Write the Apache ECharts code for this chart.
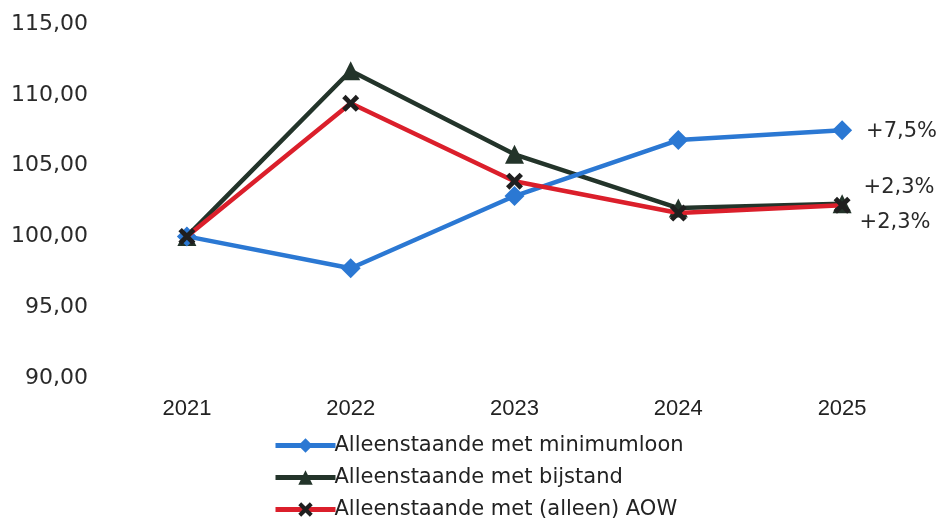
<!DOCTYPE html>
<html><head><meta charset="utf-8">
<script src="https://cdn.jsdelivr.net/npm/echarts@6/dist/echarts.min.js"></script>
<style>html,body{margin:0;padding:0;background:#fff}#c{width:943px;height:521px}</style>
</head><body><div id="c"></div>
<script>
const years = ['2021','2022','2023','2024','2025'];
const minimumloon = [100, 97.75, 102.85, 106.8, 107.5];
const bijstand = [100, 111.7, 105.8, 102.0, 102.3];
const aow = [100, 109.4, 103.9, 101.65, 102.2];
const seriesNames = ['Alleenstaande met minimumloon','Alleenstaande met bijstand','Alleenstaande met (alleen) AOW'];
const endLabels = ['+7,5%','+2,3%','+2,3%'];
const yTicks = {min: 90, max: 115, interval: 5};

const xPath = 'path://M2,0 L5,3 L8,0 L10,2 L7,5 L10,8 L8,10 L5,7 L2,10 L0,8 L3,5 L0,2 Z';
function withEnd(arr, idx, offset) {
  return arr.map((v, i) => i === arr.length - 1 ? {
    value: v,
    label: {show: true, formatter: endLabels[idx], position: 'right', distance: 12, offset: offset,
      fontFamily: 'DejaVu Sans', fontSize: 21, color: '#2a2a2a'}
  } : v);
}
const chart = echarts.init(document.getElementById('c'), null, {renderer: 'canvas'});
chart.setOption({
  animation: false,
  backgroundColor: '#fff',
  grid: {left: 105, right: 19, top: 24, bottom: 143},
  legend: {
    orient: 'vertical', left: 268, top: 430, height: 200, itemGap: 11, itemWidth: 60, itemHeight: 18,
    lineStyle: {width: 5},
    textStyle: {fontFamily: 'DejaVu Sans', fontSize: 21, color: '#222', padding: [0,0,0,-6]},
    data: seriesNames
  },
  xAxis: {
    type: 'category', data: years, boundaryGap: true,
    axisLine: {show: false}, axisTick: {show: false}, splitLine: {show: false},
    axisLabel: {fontFamily: 'Liberation Sans', fontSize: 22, color: '#222', margin: 20}
  },
  yAxis: {
    type: 'value', min: yTicks.min, max: yTicks.max, interval: yTicks.interval,
    axisLine: {show: false}, axisTick: {show: false}, splitLine: {show: false},
    axisLabel: {fontFamily: 'DejaVu Sans', fontSize: 22, color: '#2a2a2a', margin: 17,
      formatter: v => v.toFixed(2).replace('.', ',')}
  },
  series: [
    {name: seriesNames[0], type: 'line', data: withEnd(minimumloon, 0, [2, 1]),
      symbol: 'diamond', symbolSize: 20,
      lineStyle: {color: '#2b78d3', width: 4.5}, itemStyle: {color: '#2b78d3'}, z: 3},
    {name: seriesNames[1], type: 'line', data: withEnd(bijstand, 1, [0, -16]),
      symbol: 'triangle', symbolSize: 19,
      lineStyle: {color: '#23342a', width: 4.5}, itemStyle: {color: '#23342a'}, z: 2},
    {name: seriesNames[2], type: 'line', data: withEnd(aow, 2, [-3, 17]),
      symbol: xPath, symbolSize: 17,
      lineStyle: {color: '#db1f2b', width: 4.5}, itemStyle: {color: '#1f1f1f'}, z: 4}
  ]
});
</script></body></html>
